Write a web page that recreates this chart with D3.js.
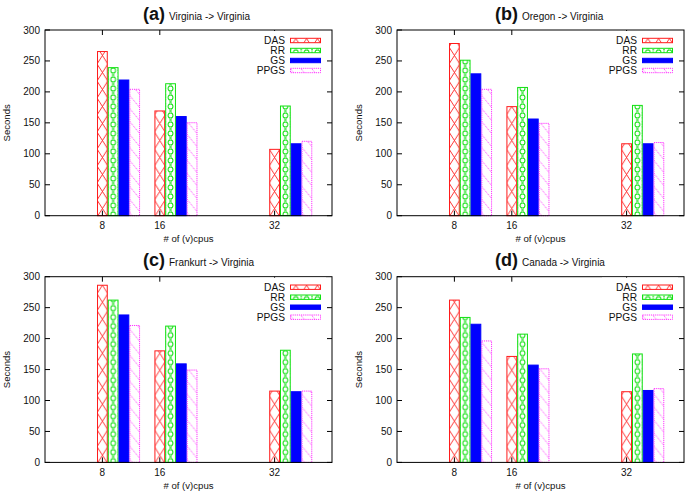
<!DOCTYPE html>
<html><head><meta charset="utf-8">
<script src="https://cdn.jsdelivr.net/npm/d3@7"></script>
<style>
html,body{margin:0;padding:0;background:#fff;}
text{font-family:"Liberation Sans",Arial,Helvetica,sans-serif;fill:#111;}
</style></head>
<body><svg id="c" width="685" height="492"></svg>
<script>
// ---- data ----
const cpus = [8, 16, 32];
const seriesNames = ["DAS", "RR", "GS", "PPGS"];
const yTicks = [0, 50, 100, 150, 200, 250, 300];
const panelLetters = ["(a)", "(b)", "(c)", "(d)"];
const panelTitles = ["Virginia -> Virginia", "Oregon -> Virginia", "Frankurt -> Virginia", "Canada -> Virginia"];
// rows: DAS, RR, GS, PPGS ; columns: 8, 16, 32 cpus
const virginiaVals = [[266, 170, 108], [240, 214, 178], [220, 161, 117], [205, 151, 121]];
const oregonVals   = [[279, 177, 117], [252, 208, 179], [230, 157, 117], [205, 150, 119]];
const frankfurtVals= [[287, 181, 116], [263, 221, 182], [239, 160, 115], [222, 150, 116]];
const canadaVals   = [[263, 172, 115], [235, 208, 176], [224, 158, 117], [197, 152, 120]];
const panelValues = [virginiaVals, oregonVals, frankfurtVals, canadaVals];

// ---- layout ----
const svg = d3.select("#c");
const pw = 287, ph = 185.7;
const origins = [[45, 30], [397, 30], [45, 276.7], [397, 276.7]];
const colors = {DAS: "#ff1a1a", RR: "#11e011", GS: "#0000ff", PPGS: "#ff33ff"};
const barUnits = 1.5;

const x = d3.scaleLinear().domain([0, 40]).range([0, pw]);
const y = d3.scaleLinear().domain([0, 300]).range([ph, 0]);
const bw = x(barUnits) - x(0);

// patterns
const defs = svg.append("defs");
const pDAS = defs.append("pattern").attr("id", "pDAS").attr("patternUnits", "userSpaceOnUse")
  .attr("width", bw).attr("height", 17);
pDAS.append("path").attr("d", `M0,0L${bw},17M${bw},0L0,17`).attr("stroke", colors.DAS)
  .attr("stroke-width", 0.9).attr("fill", "none");

const pRR = defs.append("pattern").attr("id", "pRR").attr("patternUnits", "userSpaceOnUse")
  .attr("width", bw).attr("height", 9);
pRR.append("circle").attr("cx", bw / 2).attr("cy", 4.5).attr("r", 2.4)
  .attr("stroke", colors.RR).attr("stroke-width", 1).attr("fill", "none");
[0, 9].forEach(cy => {
  pRR.append("path").attr("d", `M${bw/2-1.6},${cy-1.6}L${bw/2+1.6},${cy+1.6}M${bw/2+1.6},${cy-1.6}L${bw/2-1.6},${cy+1.6}`)
    .attr("stroke", colors.RR).attr("stroke-width", 0.9);
});
[0, bw].forEach(cx => {
  pRR.append("path").attr("d", `M${cx},1L${cx},8`).attr("stroke", colors.RR).attr("stroke-width", 1.4).attr("stroke-dasharray", "1.5,1");
});

const pPP = defs.append("pattern").attr("id", "pPP").attr("patternUnits", "userSpaceOnUse")
  .attr("width", bw).attr("height", 13);
pPP.append("path").attr("d", `M0,0L${bw},13`).attr("stroke", colors.PPGS)
  .attr("stroke-width", 0.9).attr("stroke-dasharray", "1.2,0.9").attr("fill", "none");

const fills = {DAS: "url(#pDAS)", RR: "url(#pRR)", GS: colors.GS, PPGS: "url(#pPP)"};
const dashes = {DAS: null, RR: null, GS: null, PPGS: "1.2,0.9"};

panelValues.forEach((vals, pi) => {
  const [ox, oy] = origins[pi];
  const g = svg.append("g").attr("transform", `translate(${ox},${oy})`);

  // bars
  seriesNames.forEach((s, si) => {
    cpus.forEach((c, ci) => {
      const v = vals[si][ci];
      const bx = x(c + si * barUnits - barUnits / 2);
      const bg = g.append("g").attr("transform", `translate(${bx},0)`);
      bg.append("rect").attr("x", 0.5).attr("y", y(v) + 0.5).attr("width", bw - 1).attr("height", y(0) - y(v) - 0.5)
        .attr("fill", fills[s]).attr("stroke", colors[s]).attr("stroke-width", 1)
        .attr("stroke-dasharray", dashes[s]);
    });
  });

  // border
  g.append("rect").attr("x", 0).attr("y", 0).attr("width", pw).attr("height", ph)
    .attr("fill", "none").attr("stroke", "#000").attr("stroke-width", 1);

  // legend background
  g.append("rect").attr("x", 205).attr("y", 1).attr("width", pw - 211).attr("height", 45).attr("fill", "#fff");

  // y ticks (inner, mirrored)
  const tk = 5;
  yTicks.forEach(t => {
    g.append("line").attr("x1", 0).attr("x2", tk).attr("y1", y(t)).attr("y2", y(t)).attr("stroke", "#000");
    if (t !== 300) g.append("line").attr("x1", pw - tk).attr("x2", pw).attr("y1", y(t)).attr("y2", y(t)).attr("stroke", "#000");
    g.append("text").attr("x", -5).attr("y", y(t)).attr("dy", "0.35em").attr("text-anchor", "end")
      .attr("font-size", 10).text(t);
  });
  // x ticks
  cpus.forEach(c => {
    g.append("line").attr("x1", x(c)).attr("x2", x(c)).attr("y1", ph).attr("y2", ph - tk).attr("stroke", "#000");
    g.append("line").attr("x1", x(c)).attr("x2", x(c)).attr("y1", 0).attr("y2", tk).attr("stroke", "#000");
    g.append("text").attr("x", x(c)).attr("y", ph + 13.5).attr("text-anchor", "middle")
      .attr("font-size", 10).text(c);
  });
  // redraw legend bg over top ticks hidden by legend
  g.append("rect").attr("x", 205).attr("y", 1).attr("width", pw - 211).attr("height", 45).attr("fill", "#fff");

  // axis titles
  g.append("text").attr("x", pw / 2).attr("y", ph + 26.5).attr("text-anchor", "middle")
    .attr("font-size", 9.6).text("# of (v)cpus");
  g.append("text").attr("transform", `translate(-38,${ph / 2}) rotate(-90)`).attr("text-anchor", "middle")
    .attr("dy", "0.35em").attr("font-size", 9.6).text("Seconds");

  // title
  const tt = g.append("text").attr("x", 98).attr("y", -10.5);
  tt.append("tspan").attr("font-size", 18).attr("font-weight", "bold").text(panelLetters[pi]);
  tt.append("tspan").attr("font-size", 10).attr("dx", 4).text(panelTitles[pi]);

  // legend
  seriesNames.forEach((s, si) => {
    const ly = 10.5 + si * 10;
    g.append("text").attr("x", 240).attr("y", ly).attr("dy", "0.35em").attr("text-anchor", "end")
      .attr("font-size", 10.2).text(s);
    const lg = g.append("g").attr("transform", `translate(245.5,0)`);
    lg.append("rect").attr("x", 0).attr("y", ly - 2.2).attr("width", 30).attr("height", 4.4)
      .attr("fill", fills[s]).attr("stroke", colors[s]).attr("stroke-width", 1)
      .attr("stroke-dasharray", dashes[s]);
  });
});
</script></body></html>
